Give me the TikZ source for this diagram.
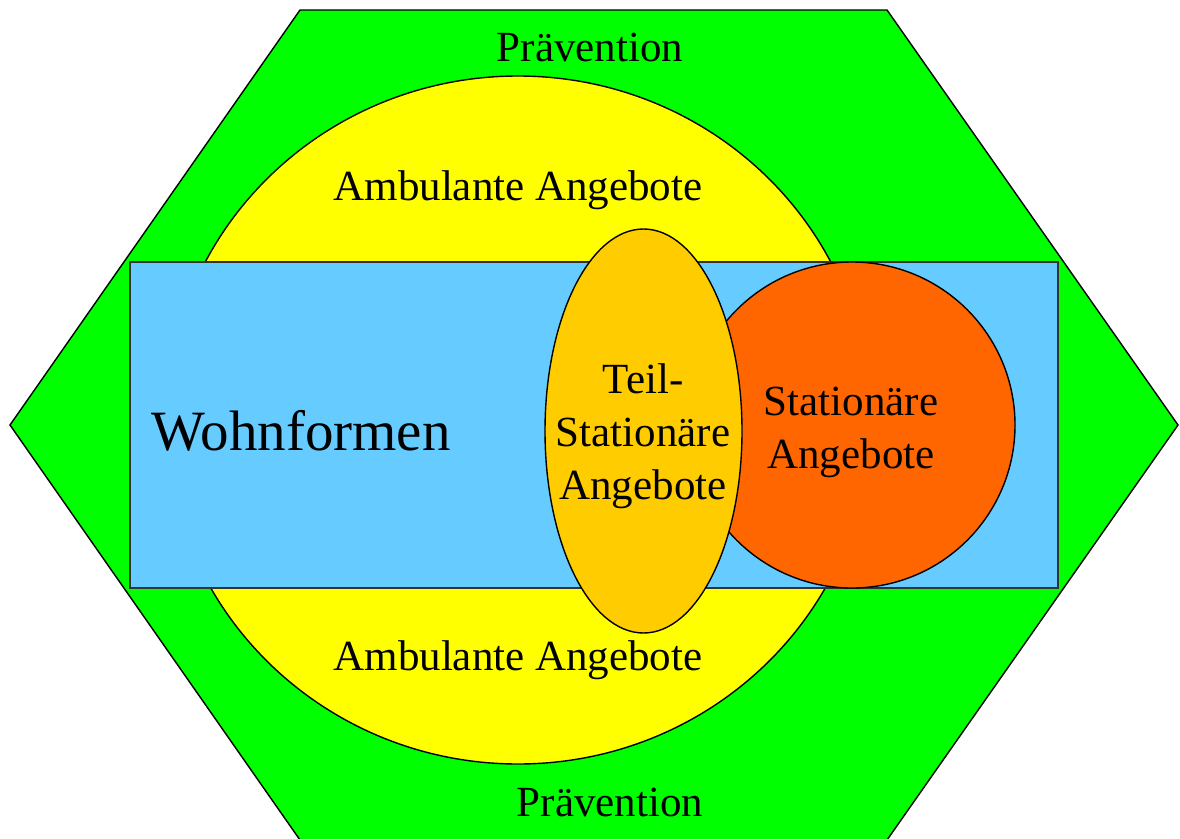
\documentclass[tikz,border=0pt]{standalone}
\usepackage{fontspec}
\setmainfont{Liberation Serif}
\definecolor{praev}{HTML}{00FF00}
\definecolor{ambul}{HTML}{FFFF00}
\definecolor{wohn}{HTML}{66CCFF}
\definecolor{teil}{HTML}{FFCC00}
\definecolor{stat}{HTML}{FF6600}
\tikzset{
  area/.style={draw=black, line width=1.4pt},
  label/.style={inner sep=0pt, align=center, font=\fontsize{43}{53}\selectfont},
}
\begin{document}
\begin{tikzpicture}[x=1pt, y=-1pt]
  \useasboundingbox (0,0) rectangle (1180,838);
  \clip (0,0) rectangle (1180,838);
  % outer hexagon: prevention
  \draw[area, fill=praev] (300,10) -- (887,10) -- (1178,425) -- (887,840)
       -- (300,840) -- (10,425) -- cycle;
  % outpatient services
  \draw[area, fill=ambul] (518,420) ellipse [x radius=352, y radius=344];
  % forms of housing
  \draw[draw=black!80, line width=1.8pt, fill=wohn] (130,262) rectangle (1058,588);
  % inpatient services
  \draw[area, fill=stat] (852,425) circle [radius=163];
  % day-care / part-inpatient services
  \draw[area, fill=teil] (643.5,431) ellipse [x radius=98.5, y radius=202];

  \node[label] (praevTop) at (590,47) {Prävention};
  \node[label] (praevBot) at (610,802) {Prävention};
  \node[label] (ambTop) at (518,190) {Ambulante Angebote};
  \node[label] (ambBot) at (518,660) {Ambulante Angebote};
  \node[label, font=\fontsize{57}{68}\selectfont] (wohnform) at (301,431) {Wohnformen};
  \node[label] (teilstat) at (643,436) {Teil-\\Stationäre\\Angebote};
  \node[label] (stationaer) at (851,432) {Stationäre\\Angebote};
\end{tikzpicture}
\end{document}
